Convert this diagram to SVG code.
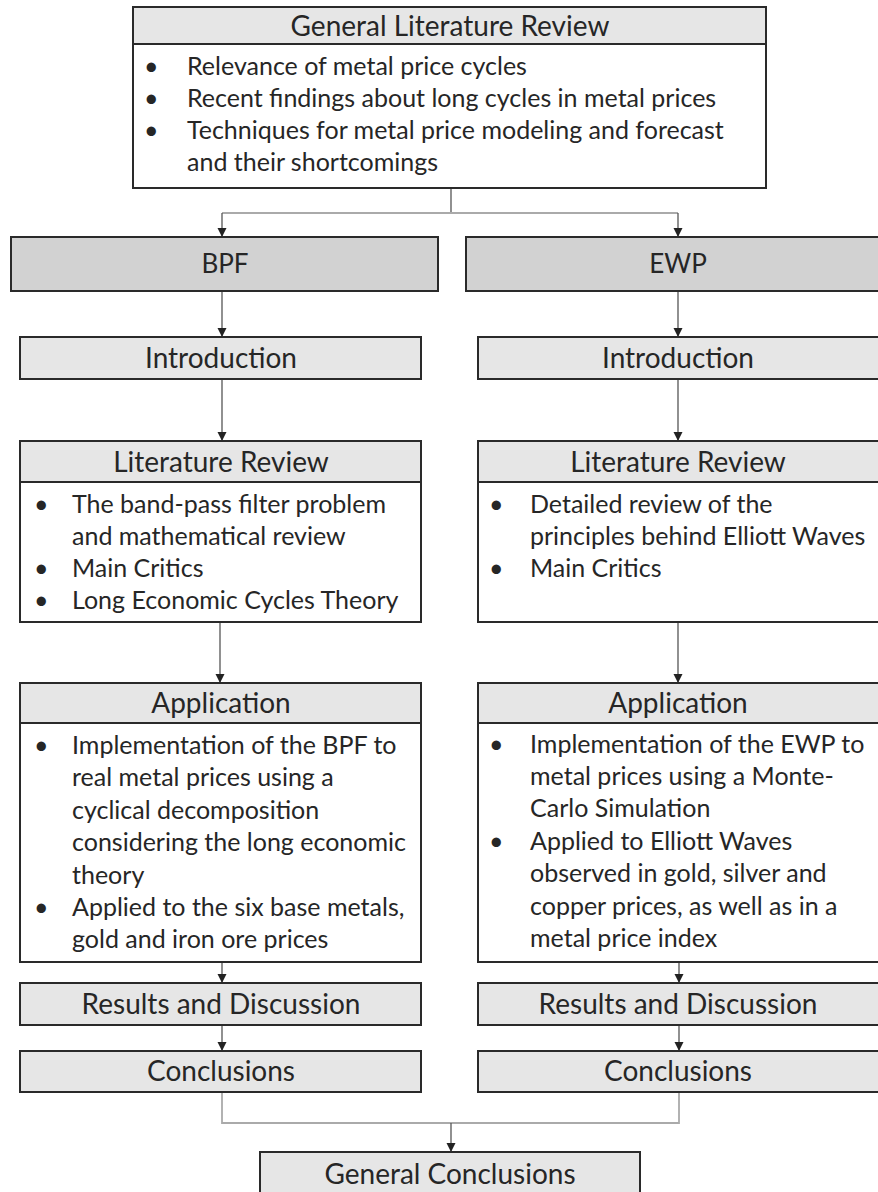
<svg xmlns="http://www.w3.org/2000/svg" width="878" height="1192" viewBox="0 0 878 1192">
<style>
.box{fill:#fff;stroke:#2a2a2a;stroke-width:2}
.hd{fill:#e6e6e6;stroke:#2a2a2a;stroke-width:2}
.dk{fill:#d2d2d2;stroke:#2a2a2a;stroke-width:2}
.t{font-family:Lato,"Open Sans","Liberation Sans",sans-serif;font-size:25px;fill:#262626}
.h{font-size:28px}
.m{font-size:26px}
.c{text-anchor:middle}
.con{fill:none;stroke:#555;stroke-width:1.3}
.lt{fill:none;stroke:#aaa;stroke-width:1.8}
</style>
<defs>
<marker id="ah" markerUnits="userSpaceOnUse" markerWidth="10" markerHeight="10" refX="9" refY="4.5" orient="auto">
<path d="M0,0 L9,4.5 L0,9 z" fill="#222"/>
</marker>
</defs>
<rect width="878" height="1192" fill="#fff"/>

<g id="connectors">
<path class="con" d="M451,188 V213"/>
<path class="lt" d="M222,213 H678"/>
<path class="con" d="M222,213 V237" marker-end="url(#ah)"/>
<path class="con" d="M678,213 V237" marker-end="url(#ah)"/>
<path class="con" d="M222,291 V337" marker-end="url(#ah)"/>
<path class="con" d="M678,291 V337" marker-end="url(#ah)"/>
<path class="con" d="M222,379 V441" marker-end="url(#ah)"/>
<path class="con" d="M678,379 V441" marker-end="url(#ah)"/>
<path class="con" d="M220,622 V683" marker-end="url(#ah)"/>
<path class="con" d="M678,622 V683" marker-end="url(#ah)"/>
<path class="con" d="M222,962 V983" marker-end="url(#ah)"/>
<path class="con" d="M679,962 V983" marker-end="url(#ah)"/>
<path class="con" d="M222,1025 V1051" marker-end="url(#ah)"/>
<path class="con" d="M679,1025 V1051" marker-end="url(#ah)"/>
<path class="lt" d="M222,1092 V1123 H679 V1092"/>
<path class="con" d="M451,1123 V1152" marker-end="url(#ah)"/>
</g>

<g id="general-literature-review">
<rect class="box" x="133" y="7" width="633" height="181"/>
<rect class="hd" x="133" y="7" width="633" height="37"/>
<text class="t h c" x="450" y="36">General Literature Review</text>
<text class="t" x="144" y="75">•</text><text class="t" x="187" y="75">Relevance of metal price cycles</text>
<text class="t" x="144" y="107">•</text><text class="t" x="187" y="107">Recent findings about long cycles in metal prices</text>
<text class="t" x="144" y="139">•</text><text class="t" x="187" y="139">Techniques for metal price modeling and forecast</text>
<text class="t" x="187" y="171">and their shortcomings</text>
</g>

<g id="bpf">
<rect class="dk" x="11" y="237" width="427" height="54"/>
<text class="t m c" x="225" y="273">BPF</text>
</g>
<g id="ewp">
<rect class="dk" x="466" y="237" width="424" height="54"/>
<text class="t m c" x="678" y="273">EWP</text>
</g>

<g id="bpf-introduction">
<rect class="hd" x="20" y="337" width="401" height="42"/>
<text class="t h c" x="221" y="368">Introduction</text>
</g>
<g id="ewp-introduction">
<rect class="hd" x="478" y="337" width="410" height="42"/>
<text class="t h c" x="678" y="368">Introduction</text>
</g>

<g id="bpf-literature-review">
<rect class="box" x="20" y="441" width="401" height="181"/>
<rect class="hd" x="20" y="441" width="401" height="41"/>
<text class="t h c" x="221" y="472">Literature Review</text>
<text class="t" x="34" y="513">•</text><text class="t" x="72" y="513">The band-pass filter problem</text>
<text class="t" x="72" y="545">and mathematical review</text>
<text class="t" x="34" y="577">•</text><text class="t" x="72" y="577">Main Critics</text>
<text class="t" x="34" y="609">•</text><text class="t" x="72" y="609">Long Economic Cycles Theory</text>
</g>
<g id="ewp-literature-review">
<rect class="box" x="478" y="441" width="410" height="181"/>
<rect class="hd" x="478" y="441" width="410" height="41"/>
<text class="t h c" x="678" y="472">Literature Review</text>
<text class="t" x="489" y="513">•</text><text class="t" x="530" y="513">Detailed review of the</text>
<text class="t" x="530" y="545">principles behind Elliott Waves</text>
<text class="t" x="489" y="577">•</text><text class="t" x="530" y="577">Main Critics</text>
</g>

<g id="bpf-application">
<rect class="box" x="20" y="683" width="401" height="279"/>
<rect class="hd" x="20" y="683" width="401" height="40"/>
<text class="t h c" x="221" y="713">Application</text>
<text class="t" x="34" y="754">•</text><text class="t" x="72" y="754">Implementation of the BPF to</text>
<text class="t" x="72" y="786">real metal prices using a</text>
<text class="t" x="72" y="819">cyclical decomposition</text>
<text class="t" x="72" y="851">considering the long economic</text>
<text class="t" x="72" y="884">theory</text>
<text class="t" x="34" y="916">•</text><text class="t" x="72" y="916">Applied to the six base metals,</text>
<text class="t" x="72" y="948">gold and iron ore prices</text>
</g>
<g id="ewp-application">
<rect class="box" x="478" y="683" width="410" height="279"/>
<rect class="hd" x="478" y="683" width="410" height="40"/>
<text class="t h c" x="678" y="713">Application</text>
<text class="t" x="489" y="753">•</text><text class="t" x="530" y="753">Implementation of the EWP to</text>
<text class="t" x="530" y="785">metal prices using a Monte-</text>
<text class="t" x="530" y="817">Carlo Simulation</text>
<text class="t" x="489" y="850">•</text><text class="t" x="530" y="850">Applied to Elliott Waves</text>
<text class="t" x="530" y="882">observed in gold, silver and</text>
<text class="t" x="530" y="915">copper prices, as well as in a</text>
<text class="t" x="530" y="947">metal price index</text>
</g>

<g id="bpf-results">
<rect class="hd" x="20" y="983" width="401" height="42"/>
<text class="t h c" x="221" y="1014">Results and Discussion</text>
</g>
<g id="ewp-results">
<rect class="hd" x="478" y="983" width="410" height="42"/>
<text class="t h c" x="678" y="1014">Results and Discussion</text>
</g>

<g id="bpf-conclusions">
<rect class="hd" x="20" y="1051" width="401" height="41"/>
<text class="t h c" x="221" y="1081">Conclusions</text>
</g>
<g id="ewp-conclusions">
<rect class="hd" x="478" y="1051" width="410" height="41"/>
<text class="t h c" x="678" y="1081">Conclusions</text>
</g>

<g id="general-conclusions">
<rect class="hd" x="260" y="1152" width="380" height="52"/>
<text class="t h c" x="450" y="1184">General Conclusions</text>
</g>
</svg>
